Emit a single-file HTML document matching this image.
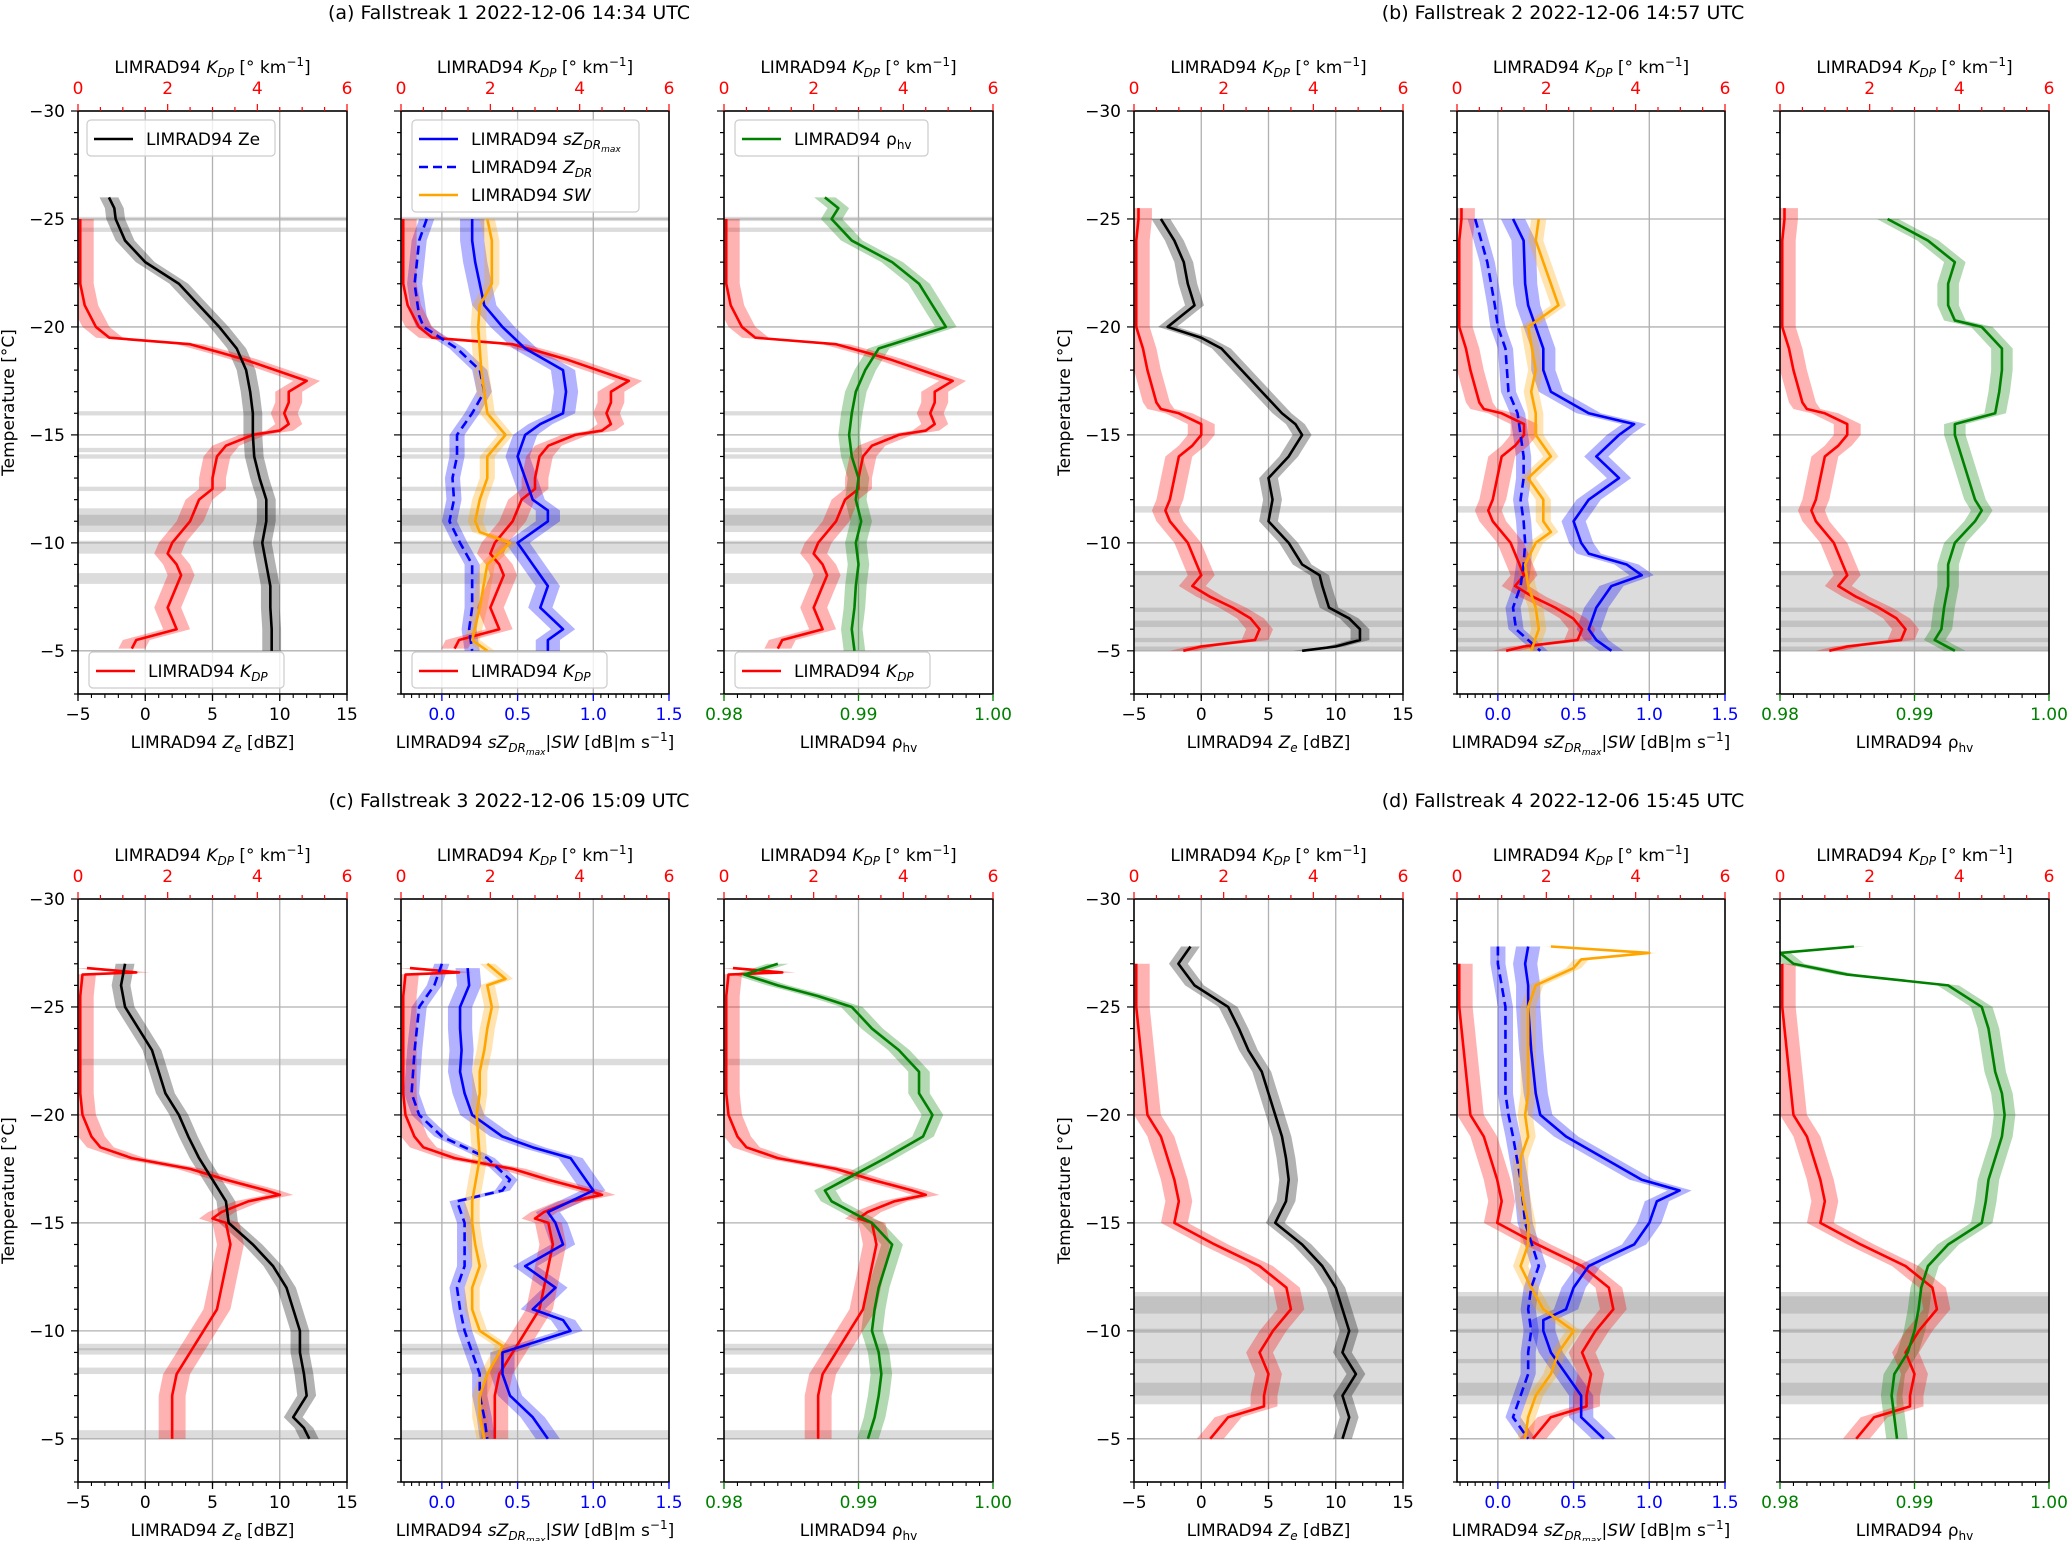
<!DOCTYPE html>
<html><head><meta charset="utf-8"><style>
html,body{margin:0;padding:0;background:#fff;}
svg{display:block;font-family:"DejaVu Sans","Liberation Sans",sans-serif;}
</style></head><body>
<svg id="fig" xmlns="http://www.w3.org/2000/svg" width="2067" height="1541" viewBox="0 0 2067 1541"><defs id="defs"></defs></svg>
<script>
// ---------- DATA: [temperature °C, value] ----------
// Fallstreak 1 (a)
const aKdp=[[-25,0.05],[-24,0.05],[-22,0.05],[-21,0.15],[-20,0.4],[-19.5,0.7],[-19.2,2.5],[-18.8,3.2],[-18.5,3.7],[-17.5,5.1],[-17,4.7],[-16.5,4.7],[-16,4.6],[-15.5,4.7],[-15.2,4.5],[-15,3.9],[-14.5,3.3],[-14,3.1],[-13,3.0],[-12.5,3.0],[-12,2.7],[-11,2.5],[-10.5,2.3],[-10,2.1],[-9.5,2.0],[-9,2.2],[-8.5,2.3],[-8,2.2],[-7,2.0],[-6,2.2],[-5.5,1.3],[-5.1,1.2]];
const aZe=[[-26,-2.7],[-25.5,-2.3],[-25,-2.2],[-24,-1.5],[-23,0],[-22,2.5],[-21,4.0],[-20,5.5],[-19,6.8],[-18,7.5],[-17,7.8],[-16,8.0],[-15,8.0],[-14,8.1],[-13,8.5],[-12,9.0],[-11,9.0],[-10,8.7],[-9,9.0],[-8,9.3],[-7,9.3],[-6,9.4],[-5,9.4]];
const aSzdr=[[-25,0.2],[-24,0.2],[-23,0.22],[-22,0.25],[-21,0.28],[-20,0.4],[-19,0.55],[-18,0.8],[-17,0.82],[-16,0.8],[-15.5,0.65],[-15,0.55],[-14,0.5],[-13,0.55],[-12,0.6],[-11.5,0.7],[-11,0.7],[-10,0.5],[-9,0.6],[-8,0.7],[-7,0.65],[-6,0.8],[-5.5,0.7],[-5,0.7]];
const aZdr=[[-25,-0.1],[-24,-0.15],[-22,-0.18],[-20.5,-0.15],[-20,-0.12],[-19,0.1],[-18,0.25],[-17,0.28],[-16,0.2],[-15,0.1],[-14,0.1],[-13,0.07],[-12,0.08],[-11,0.05],[-10,0.12],[-9,0.2],[-7,0.2],[-6,0.18],[-5,0.2]];
const aSw=[[-25,0.3],[-24,0.33],[-22,0.33],[-21,0.25],[-20,0.24],[-18,0.26],[-16,0.3],[-15,0.42],[-14,0.3],[-13,0.3],[-12,0.25],[-11,0.22],[-10.5,0.25],[-10,0.45],[-9,0.3],[-7,0.25],[-5.5,0.2],[-5,0.3]];
const aRho=[[-26,0.9875],[-25.5,0.9885],[-25,0.988],[-24,0.9895],[-23,0.9925],[-22,0.9945],[-21,0.9955],[-20,0.9965],[-19.5,0.994],[-19,0.9915],[-18,0.9905],[-17,0.9898],[-16,0.9895],[-15,0.9893],[-14,0.9895],[-13,0.99],[-12,0.9898],[-11,0.9902],[-10,0.9898],[-9,0.99],[-8,0.9898],[-7,0.9897],[-6,0.9895],[-5,0.9897]];
const aShade=[[-25.1,-24.9],[-24.6,-24.4],[-16.1,-15.9],[-14.4,-14.2],[-14.1,-13.9],[-12.6,-12.4],[-11.6,-10.5],[-11.3,-10.8],[-10.1,-9.5],[-8.6,-8.1]];
// Fallstreak 2 (b)
const bKdp=[[-25.5,0.1],[-25,0.1],[-24,0.05],[-22,0.05],[-20,0.05],[-19,0.2],[-18,0.3],[-16.5,0.5],[-16.2,0.6],[-16,1.0],[-15.5,1.5],[-15,1.5],[-14.5,1.3],[-14,1.0],[-13,0.9],[-12,0.8],[-11.5,0.7],[-11,0.8],[-10,1.2],[-9,1.4],[-8.5,1.5],[-8,1.3],[-7.5,1.7],[-7,2.2],[-6.5,2.6],[-6,2.8],[-5.5,2.7],[-5.2,1.5],[-5,1.1]];
const bZe=[[-25,-3],[-24,-2],[-23,-1.3],[-22,-1],[-21,-0.5],[-20.5,-1.5],[-20,-2.5],[-19.5,0],[-19,1.5],[-18,3],[-17,4.5],[-16,6],[-15.5,7],[-15,7.5],[-14,6.5],[-13,5],[-12,5.3],[-11,5],[-10,6.5],[-9,7.5],[-8.5,8.8],[-8,9],[-7,9.5],[-6.5,11],[-6,11.8],[-5.5,11.8],[-5.2,10],[-5,7.5]];
const bSzdr=[[-25,0.1],[-24,0.17],[-22,0.18],[-21,0.2],[-20,0.25],[-19,0.3],[-18,0.3],[-17,0.35],[-16,0.6],[-15.5,0.9],[-15,0.8],[-14,0.65],[-13,0.8],[-12,0.6],[-11.5,0.55],[-11,0.5],[-10,0.55],[-9.5,0.6],[-9,0.85],[-8.5,0.95],[-8,0.75],[-7,0.65],[-6,0.6],[-5.5,0.65],[-5,0.75]];
const bZdr=[[-25,-0.15],[-23,-0.07],[-21,-0.02],[-20,0.0],[-19,0.05],[-17,0.07],[-16,0.13],[-15,0.15],[-14,0.17],[-13,0.17],[-12,0.15],[-11,0.17],[-10,0.18],[-9,0.17],[-8,0.15],[-7,0.1],[-6,0.12],[-5,0.28]];
const bSw=[[-25,0.27],[-24,0.25],[-23,0.3],[-22,0.35],[-21,0.4],[-20.5,0.3],[-20,0.2],[-18,0.25],[-17,0.22],[-16,0.25],[-15,0.25],[-14,0.35],[-13,0.2],[-12,0.3],[-11,0.3],[-10.5,0.35],[-10,0.25],[-9,0.18],[-8,0.2],[-7,0.25],[-6,0.27],[-5,0.22]];
const bRho=[[-25,0.988],[-24,0.991],[-23,0.993],[-22,0.9925],[-21,0.9925],[-20.3,0.993],[-20,0.995],[-19,0.9965],[-18,0.9965],[-17,0.9963],[-16,0.996],[-15.5,0.993],[-15,0.993],[-14,0.9935],[-13,0.994],[-12,0.9945],[-11.5,0.995],[-11,0.9945],[-10,0.993],[-9,0.9925],[-8,0.9925],[-7,0.9922],[-6,0.992],[-5.5,0.9915],[-5,0.993]];
const bShade=[[-11.7,-11.4],[-8.7,-5.0],[-8.7,-8.5],[-7.0,-6.8],[-6.4,-6.1],[-5.6,-5.4],[-5.2,-5.0]];
// Fallstreak 3 (c)
const cKdp=[[-26.8,0.2],[-26.6,1.3],[-26.5,0.1],[-25.5,0.05],[-25,0.05],[-22,0.05],[-21,0.05],[-20,0.1],[-19,0.3],[-18.5,0.5],[-18,1.2],[-17.5,2.5],[-17,3.3],[-16.5,4.2],[-16.3,4.5],[-16,3.8],[-15.5,3.2],[-15.2,3.0],[-15,3.3],[-14,3.4],[-13,3.3],[-12,3.2],[-11,3.1],[-10,2.8],[-9,2.5],[-8,2.2],[-7,2.1],[-6,2.1],[-5,2.1]];
const cZe=[[-27,-1.5],[-26,-1.8],[-25,-1.5],[-24,-0.5],[-23,0.5],[-22,1.0],[-21,1.5],[-20,2.5],[-19,3.2],[-18,4.0],[-17,5.0],[-16,6.0],[-15,6.2],[-14,8.0],[-13,9.5],[-12,10.5],[-11,11.0],[-10,11.5],[-9,11.5],[-8,11.8],[-7,12.0],[-6,11.0],[-5.5,11.8],[-5,12.2]];
const cSzdr=[[-26.8,0.17],[-26,0.18],[-25,0.12],[-24,0.12],[-23,0.13],[-22,0.12],[-21,0.15],[-20,0.2],[-19,0.4],[-18.5,0.6],[-18,0.85],[-17,0.95],[-16.5,1.0],[-16,0.85],[-15.5,0.7],[-15,0.75],[-14,0.8],[-13,0.55],[-12,0.75],[-11,0.6],[-10.5,0.8],[-10,0.85],[-9,0.4],[-8,0.4],[-7,0.45],[-6,0.6],[-5.5,0.65],[-5,0.7]];
const cZdr=[[-27,0.0],[-26,-0.05],[-25,-0.15],[-23,-0.18],[-21,-0.2],[-20,-0.15],[-19,0.0],[-18,0.3],[-17,0.45],[-16.5,0.4],[-16,0.1],[-15,0.15],[-14,0.15],[-13,0.15],[-12,0.1],[-11,0.12],[-10,0.15],[-9,0.2],[-8,0.25],[-7,0.25],[-6,0.28],[-5,0.3]];
const cSw=[[-27,0.3],[-26.3,0.42],[-26,0.3],[-25,0.33],[-24,0.3],[-23,0.28],[-22,0.25],[-21,0.25],[-20,0.23],[-18,0.25],[-16,0.2],[-15,0.2],[-14,0.22],[-13,0.25],[-12,0.2],[-11,0.2],[-10,0.25],[-9.3,0.4],[-9,0.38],[-8,0.3],[-7,0.25],[-6,0.25],[-5,0.28]];
const cRho=[[-27,0.984],[-26.5,0.9815],[-26,0.984],[-25.5,0.987],[-25,0.9895],[-24,0.991],[-23,0.993],[-22,0.9945],[-21,0.9945],[-20,0.9955],[-19,0.9948],[-18,0.992],[-17,0.989],[-16.5,0.9875],[-16,0.988],[-15,0.991],[-14,0.9925],[-13,0.992],[-12,0.9915],[-11,0.9912],[-10,0.991],[-9,0.9915],[-8,0.9917],[-7,0.9915],[-6,0.9912],[-5,0.9907]];
const cShade=[[-22.6,-22.3],[-9.4,-8.9],[-9.2,-9.1],[-8.3,-8.0],[-5.4,-5.0]];
// Fallstreak 4 (d)
const dKdp=[[-27,0.05],[-25,0.05],[-24,0.1],[-22,0.2],[-20,0.3],[-19,0.6],[-17,0.9],[-16,1.0],[-15,0.9],[-14,1.8],[-13,2.8],[-12,3.4],[-11,3.5],[-10,3.1],[-9,2.8],[-8,3.0],[-7,2.9],[-6.5,2.9],[-6,2.1],[-5,1.7]];
const dZe=[[-27.8,-0.8],[-27,-1.7],[-26,-0.5],[-25,2.0],[-24,2.8],[-23,3.5],[-22,4.5],[-21,5.0],[-20,5.5],[-19,6.0],[-18,6.3],[-17,6.5],[-16,6.3],[-15,5.5],[-14,7.5],[-13,9.0],[-12,10.0],[-11,10.5],[-10,11.0],[-9,10.5],[-8,11.5],[-7,10.5],[-6,11.0],[-5,10.5]];
const dSzdr=[[-27.8,0.2],[-27,0.18],[-26,0.2],[-25,0.2],[-23,0.22],[-21,0.25],[-20,0.28],[-19,0.45],[-18,0.7],[-17,0.95],[-16.5,1.2],[-16,1.05],[-15,1.0],[-14,0.9],[-13,0.6],[-12,0.5],[-11,0.45],[-10.5,0.3],[-10,0.3],[-9,0.35],[-8,0.45],[-7,0.55],[-6,0.55],[-5,0.7]];
const dZdr=[[-27.8,0.0],[-27,0.0],[-25,0.05],[-23,0.05],[-21,0.05],[-20,0.07],[-19,0.1],[-17,0.15],[-15,0.18],[-13,0.27],[-12,0.22],[-11,0.2],[-10,0.22],[-9,0.2],[-8,0.2],[-7,0.15],[-6,0.1],[-5,0.2]];
const dSw=[[-27.8,0.35],[-27.5,1.0],[-27.2,0.55],[-26.8,0.5],[-26,0.25],[-25,0.2],[-23,0.2],[-21,0.2],[-20,0.18],[-19,0.2],[-18,0.15],[-17,0.15],[-16,0.17],[-15,0.2],[-14,0.2],[-13,0.15],[-12,0.22],[-11,0.3],[-10,0.5],[-9,0.4],[-8,0.35],[-7,0.25],[-6,0.2],[-5,0.18]];
const dRho=[[-27.8,0.9855],[-27.5,0.98],[-27,0.981],[-26.5,0.985],[-26,0.9925],[-25,0.995],[-24,0.9955],[-22,0.996],[-21,0.9965],[-20,0.9967],[-19,0.9965],[-18,0.996],[-17,0.9955],[-16,0.9953],[-15,0.995],[-14,0.9925],[-13,0.991],[-12,0.9905],[-11,0.9903],[-10,0.99],[-9,0.9895],[-8,0.9885],[-7,0.9883],[-6,0.9885],[-5,0.9887]];
const dShade=[[-11.8,-6.6],[-11.6,-10.8],[-10.1,-9.9],[-8.7,-8.5],[-7.6,-7.0]];

const titles=["(a) Fallstreak 1 2022-12-06 14:34 UTC","(b) Fallstreak 2 2022-12-06 14:57 UTC","(c) Fallstreak 3 2022-12-06 15:09 UTC","(d) Fallstreak 4 2022-12-06 15:45 UTC"];
const yTicks=[-30,-25,-20,-15,-10,-5];
const topTicks=[0,2,4,6];
const zeTicks=[-5,0,5,10,15];
const zdrTicks=[0.0,0.5,1.0,1.5];
const rhoTicks=[0.98,0.99,1.00];

// ---------- layout ----------
const NS="http://www.w3.org/2000/svg";
const svg=document.getElementById('fig');
const defs=document.getElementById('defs');
const COLX=[[78,347],[401,669],[724,993]];
const HALF_DX=[0,1056];
const ROW_TOP=[111,899], ROW_BOT=[694,1482];
const TMIN=-30,TMAX=-3;
const RANGES=[[-5,15],[-0.27,1.5],[0.98,1.00]];
const KRANGE=[0,6];

function mk(tag,attrs,name,parent){
  const el=document.createElementNS(NS,tag);
  for(const k in attrs) el.setAttribute(k,attrs[k]);
  
  
  (parent||svg).appendChild(el);
  return el;
}
function txt(x,y,html,opts,name,parent){
  const el=mk('text',Object.assign({x:x,y:y,'font-size':17,'text-anchor':'middle',fill:'#000'},opts||{}),name,parent);
  el.innerHTML=html;
  return el;
}
const KDP_LABEL='LIMRAD94 <tspan font-style="italic">K</tspan><tspan font-style="italic" font-size="12" dy="4">DP</tspan><tspan dy="-4"> [°</tspan> km<tspan font-size="12" dy="-7">−1</tspan><tspan dy="7">]</tspan>';
const XLABELS=[
 'LIMRAD94 <tspan font-style="italic">Z</tspan><tspan font-style="italic" font-size="12" dy="4">e</tspan><tspan dy="-4"> [dBZ]</tspan>',
 'LIMRAD94 <tspan font-style="italic">sZ</tspan><tspan font-style="italic" font-size="12" dy="4">DR</tspan><tspan font-style="italic" font-size="9" dy="3">max</tspan><tspan dy="-7">|</tspan><tspan font-style="italic">SW</tspan> [dB|m s<tspan font-size="12" dy="-7">−1</tspan><tspan dy="7">]</tspan>',
 'LIMRAD94 ρ<tspan font-size="12" dy="4">hv</tspan>'];
const TICKCOL=['#000','#0000ff','#008000'];

function drawFallstreak(fi,series,shade){
  const half=fi%2, row=Math.floor(fi/2);
  const dx=HALF_DX[half], top=ROW_TOP[row], bot=ROW_BOT[row];
  const g=mk('g',{},'fallstreak-'+(fi+1)+'-group');
  const yOf=t=>top+(t-TMIN)/(TMAX-TMIN)*(bot-top);
  txt(dx+509+(half?-2:0),top-92,titles[fi],{'font-size':19},'title-fallstreak-'+(fi+1),g);
  for(let pi=0;pi<3;pi++){
    const x0=COLX[pi][0]+dx, x1=COLX[pi][1]+dx;
    const pg=mk('g',{},'panel-'+(fi+1)+'-'+['ze','zdr-sw','rhohv'][pi],g);
    const cid='clip-'+fi+'-'+pi;
    const cp=mk('clipPath',{id:cid},'clip-path',defs);
    mk('rect',{x:x0,y:top,width:x1-x0,height:bot-top},'clip-rect',cp);
    const dg=mk('g',{'clip-path':'url(#'+cid+')'},'plot-area',pg);
    const R=RANGES[pi];
    const xOf=v=>x0+(v-R[0])/(R[1]-R[0])*(x1-x0);
    const kOf=v=>x0+(v-KRANGE[0])/(KRANGE[1]-KRANGE[0])*(x1-x0);
    shade.forEach(s=>{
      mk('rect',{x:x0,y:yOf(s[0]),width:x1-x0,height:Math.max(2,yOf(s[1])-yOf(s[0])),fill:'#808080','fill-opacity':0.28},'cloud-layer-shading',dg);
    });
    const xt=[zeTicks,zdrTicks,rhoTicks][pi];
    xt.forEach(v=>{const X=xOf(v); if(X>x0+1&&X<x1-1) mk('line',{x1:X,y1:top,x2:X,y2:bot,stroke:'#b0b0b0','stroke-width':1.3},'x-gridline',dg);});
    yTicks.forEach(t=>{if(t>TMIN) mk('line',{x1:x0,y1:yOf(t),x2:x1,y2:yOf(t),stroke:'#b0b0b0','stroke-width':1.3},'y-gridline',dg);});
    const band=(arr,fx,sp,col,op,name)=>{
      const up=arr.map(p=>fx(p[1]+sp)+','+yOf(p[0]));
      const dn=arr.slice().reverse().map(p=>fx(p[1]-sp)+','+yOf(p[0]));
      mk('polygon',{points:up.concat(dn).join(' '),fill:col,'fill-opacity':op,stroke:'none'},name,dg);
    };
    const line=(arr,fx,col,name,dash)=>{
      const a={points:arr.map(p=>fx(p[1])+','+yOf(p[0])).join(' '),fill:'none',stroke:col,'stroke-width':2.6,'stroke-linejoin':'round'};
      if(dash) a['stroke-dasharray']=dash;
      mk('polyline',a,name,dg);
    };
    const s=series;
    if(pi===0){
      band(s.ze,xOf,0.7,'#000',0.3,'ze-band');
      band(s.kdp,kOf,0.3,'#ff0000',0.3,'kdp-band');
      line(s.kdp,kOf,'#ff0000','kdp-line');
      line(s.ze,xOf,'#000','ze-line');
    } else if(pi===1){
      band(s.szdr,xOf,0.08,'#0000ff',0.3,'szdrmax-band');
      band(s.zdr,xOf,0.05,'#0000ff',0.3,'zdr-band');
      band(s.sw,xOf,0.05,'#ffa500',0.3,'sw-band');
      band(s.kdp,kOf,0.3,'#ff0000',0.3,'kdp-band');
      line(s.kdp,kOf,'#ff0000','kdp-line');
      line(s.szdr,xOf,'#0000ff','szdrmax-line');
      line(s.zdr,xOf,'#0000ff','zdr-line','9,5');
      line(s.sw,xOf,'#ffa500','sw-line');
    } else {
      band(s.rho,xOf,0.0008,'#008000',0.3,'rhohv-band');
      band(s.kdp,kOf,0.3,'#ff0000',0.3,'kdp-band');
      line(s.kdp,kOf,'#ff0000','kdp-line');
      line(s.rho,xOf,'#008000','rhohv-line');
    }
    mk('rect',{x:x0,y:top,width:x1-x0,height:bot-top,fill:'none',stroke:'#000','stroke-width':1.6},'axes-frame',pg);
    for(let t=-30;t<=-3;t++){
      const maj=(t%5===0);
      mk('line',{x1:x0-(maj?7:4),y1:yOf(t),x2:x0,y2:yOf(t),stroke:'#000','stroke-width':1.2},'y-tick',pg);
    }
    if(pi===0){
      yTicks.forEach(t=>txt(x0-13,yOf(t)+6,'−'+Math.abs(t),{'text-anchor':'end'},'y-tick-label',pg));
      txt(0,0,'Temperature [°C]',{transform:'translate('+(dx+14)+','+((top+bot)/2)+') rotate(-90)'},'y-axis-title',pg);
    }
    const minorStep=[1,0.05,0.001][pi];
    for(let v=Math.ceil(R[0]/minorStep)*minorStep; v<=R[1]+1e-9; v+=minorStep){
      mk('line',{x1:xOf(v),y1:bot,x2:xOf(v),y2:bot+4,stroke:'#000','stroke-width':1.1},'x-minor-tick',pg);
    }
    xt.forEach(v=>{
      mk('line',{x1:xOf(v),y1:bot,x2:xOf(v),y2:bot+7,stroke:TICKCOL[pi],'stroke-width':1.3},'x-tick',pg);
      const lab=pi===0?(v<0?'−'+Math.abs(v):String(v)):(pi===1?v.toFixed(1):v.toFixed(2));
      txt(xOf(v),bot+26,lab,{fill:TICKCOL[pi]},'x-tick-label',pg);
    });
    txt((x0+x1)/2,bot+54,XLABELS[pi],{},'x-axis-title',pg);
    for(let v=0;v<=6.0001;v+=0.5){
      mk('line',{x1:kOf(v),y1:top,x2:kOf(v),y2:top-(v%2===0?7:4),stroke:'#ff0000','stroke-width':1.2},'top-tick',pg);
    }
    topTicks.forEach(v=>txt(kOf(v),top-17,String(v),{fill:'#ff0000'},'top-tick-label',pg));
    txt((x0+x1)/2,top-38,KDP_LABEL,{},'top-axis-title',pg);
    if(fi===0){
      const leg=(lx,ly,w,entries,name)=>{
        const lg=mk('g',{},name,pg);
        mk('rect',{x:lx,y:ly,width:w,height:entries.length*28+8,rx:4,fill:'#fff','fill-opacity':0.8,stroke:'#cccccc','stroke-width':1.2},'legend-box',lg);
        entries.forEach((e,i)=>{
          const yy=ly+19+i*28;
          const a={x1:lx+7,y1:yy,x2:lx+46,y2:yy,stroke:e[0],'stroke-width':2.6};
          if(e[2]) a['stroke-dasharray']='9,5';
          mk('line',a,'legend-swatch',lg);
          txt(lx+59,yy+6,e[1],{'text-anchor':'start'},'legend-entry',lg);
        });
      };
      const KL='LIMRAD94 <tspan font-style="italic">K</tspan><tspan font-style="italic" font-size="12" dy="4">DP</tspan>';
      if(pi===0){
        leg(x0+9,top+9,188,[['#000','LIMRAD94 Ze']],'legend-ze');
      } else if(pi===1){
        leg(x0+11,top+9,227,[['#0000ff','LIMRAD94 <tspan font-style="italic">sZ</tspan><tspan font-style="italic" font-size="12" dy="4">DR</tspan><tspan font-style="italic" font-size="9" dy="3">max</tspan>'],['#0000ff','LIMRAD94 <tspan font-style="italic">Z</tspan><tspan font-style="italic" font-size="12" dy="4">DR</tspan>',true],['#ffa500','LIMRAD94 <tspan font-style="italic">SW</tspan>']],'legend-zdr-sw');
      } else {
        leg(x0+11,top+9,193,[['#008000','LIMRAD94 ρ<tspan font-size="12" dy="4">hv</tspan>']],'legend-rhohv');
      }
      leg(x0+11,bot-42,195,[['#ff0000',KL]],'legend-kdp');
    }
  }
}
const SERIES=[
 {kdp:aKdp,ze:aZe,szdr:aSzdr,zdr:aZdr,sw:aSw,rho:aRho},
 {kdp:bKdp,ze:bZe,szdr:bSzdr,zdr:bZdr,sw:bSw,rho:bRho},
 {kdp:cKdp,ze:cZe,szdr:cSzdr,zdr:cZdr,sw:cSw,rho:cRho},
 {kdp:dKdp,ze:dZe,szdr:dSzdr,zdr:dZdr,sw:dSw,rho:dRho}];
const SHADES=[aShade,bShade,cShade,dShade];
for(let i=0;i<4;i++) drawFallstreak(i,SERIES[i],SHADES[i]);
</script>
</body></html>
